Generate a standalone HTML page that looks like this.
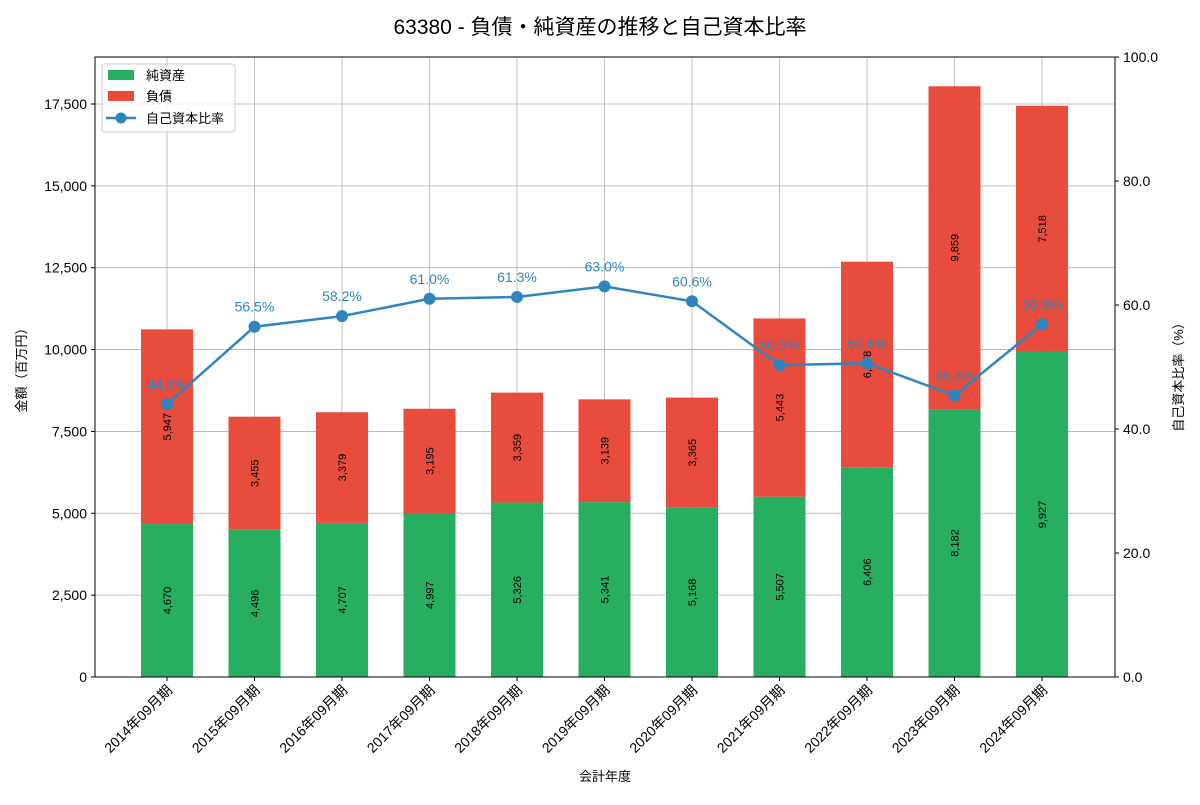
<!DOCTYPE html>
<html><head><meta charset="utf-8"><style>
body{margin:0;background:#fff;font-family:"Liberation Sans","Noto Sans CJK JP",sans-serif}
svg text{font-family:"Liberation Sans","Noto Sans CJK JP",sans-serif}
</style></head><body>
<svg id="c" width="1200" height="800" xmlns="http://www.w3.org/2000/svg"></svg>
<script>
const categories=["2014年09月期","2015年09月期","2016年09月期","2017年09月期","2018年09月期","2019年09月期","2020年09月期","2021年09月期","2022年09月期","2023年09月期","2024年09月期"];
const netAssets=[4670,4496,4707,4997,5326,5341,5168,5507,6406,8182,9927];
const liabilities=[5947,3455,3379,3195,3359,3139,3365,5443,6278,9859,7518];
const ratio=[44.0,56.5,58.2,61.0,61.3,63.0,60.6,50.3,50.6,45.4,56.9];
const yTicks=[0,2500,5000,7500,10000,12500,15000,17500];
const rTicks=[0,20,40,60,80,100];
const NS="http://www.w3.org/2000/svg",svg=document.getElementById('c');
const L=95,R=1115,T=57,B=677,yMax=18935;
const y=v=>B-(v/yMax)*(B-T), yr=v=>B-(v/100)*(B-T);
const step=87.5, x=i=>167+i*step, bw=52;
function el(t,a,txt){const e=document.createElementNS(NS,t);for(const k in a)e.setAttribute(k,a[k]);if(txt!==undefined)e.textContent=txt;svg.appendChild(e);return e;}
const fmt=v=>v.toLocaleString('en-US');
// grid
yTicks.forEach(v=>{const g=el('line',{x1:L,x2:R,y1:y(v),y2:y(v),stroke:'#b0b0b0','stroke-width':0.8});});
categories.forEach((c,i)=>{const g=el('line',{x1:x(i),x2:x(i),y1:T,y2:B,stroke:'#b0b0b0','stroke-width':0.8});});
// bars
categories.forEach((c,i)=>{
 const b1=el('rect',{x:x(i)-bw/2,y:y(netAssets[i]),width:bw,height:B-y(netAssets[i]),fill:'#27ae60'});
 
 const top=netAssets[i]+liabilities[i];
 const b2=el('rect',{x:x(i)-bw/2,y:y(top),width:bw,height:y(netAssets[i])-y(top),fill:'#e74c3c'});
 
 [[netAssets[i]/2,netAssets[i]],[netAssets[i]+liabilities[i]/2,liabilities[i]]].forEach(([m,v])=>{
  const t=el('text',{x:0,y:0,transform:`translate(${x(i)+4},${y(m)}) rotate(-90)`,'text-anchor':'middle','font-size':11,fill:'#000'},fmt(v));
  
 });
});
// line
const pts=ratio.map((v,i)=>x(i)+','+yr(v)).join(' ');
const pl=el('polyline',{points:pts,fill:'none',stroke:'#2e86c1','stroke-width':2.5});

ratio.forEach((v,i)=>{
 const p=el('circle',{cx:x(i),cy:yr(v),r:6,fill:'#2e86c1'});
 
 const t=el('text',{x:x(i),y:yr(v)-15,'text-anchor':'middle','font-size':14,fill:'#2e86c1'},v.toFixed(1)+'%');
 
});
// axes frame
const fr=el('rect',{x:L,y:T,width:R-L,height:B-T,fill:'none',stroke:'#000','stroke-width':1});

yTicks.forEach(v=>{el('line',{x1:L-4,x2:L,y1:y(v),y2:y(v),stroke:'#000'});
 const t=el('text',{x:L-8,y:y(v)+5,'text-anchor':'end','font-size':14},fmt(v));});
rTicks.forEach(v=>{el('line',{x1:R,x2:R+4,y1:yr(v),y2:yr(v),stroke:'#000'});
 const t=el('text',{x:R+8,y:yr(v)+5,'font-size':14},v.toFixed(1));});
categories.forEach((c,i)=>{el('line',{x1:x(i),x2:x(i),y1:B,y2:B+4,stroke:'#000'});
 const t=el('text',{x:0,y:0,transform:`translate(${x(i)+6},${B+14}) rotate(-45)`,'text-anchor':'end','font-size':14},c);
 });
let t;
t=el('text',{x:600,y:34,'text-anchor':'middle','font-size':21},'63380 - 負債・純資産の推移と自己資本比率');
t=el('text',{x:605,y:781,'text-anchor':'middle','font-size':13},'会計年度');
t=el('text',{x:0,y:0,transform:'translate(26,367) rotate(-90)','text-anchor':'middle','font-size':13},'金額（百万円）');
t=el('text',{x:0,y:0,transform:'translate(1183,374) rotate(-90)','text-anchor':'middle','font-size':13},'自己資本比率（%）');
// legend
const lg=el('rect',{x:102,y:64,width:133,height:68,fill:'#fff','fill-opacity':0.8,stroke:'#ccc',rx:3});
el('rect',{x:108,y:70,width:26,height:10,fill:'#27ae60'});
t=el('text',{x:146,y:80,'font-size':13},'純資産');
el('rect',{x:108,y:91,width:26,height:10,fill:'#e74c3c'});
t=el('text',{x:146,y:101,'font-size':13},'負債');
el('line',{x1:106,x2:136,y1:118,y2:118,stroke:'#2e86c1','stroke-width':2.5});el('circle',{cx:121,cy:118,r:5.5,fill:'#2e86c1'});
t=el('text',{x:146,y:123,'font-size':13},'自己資本比率');
</script>
</body></html>
